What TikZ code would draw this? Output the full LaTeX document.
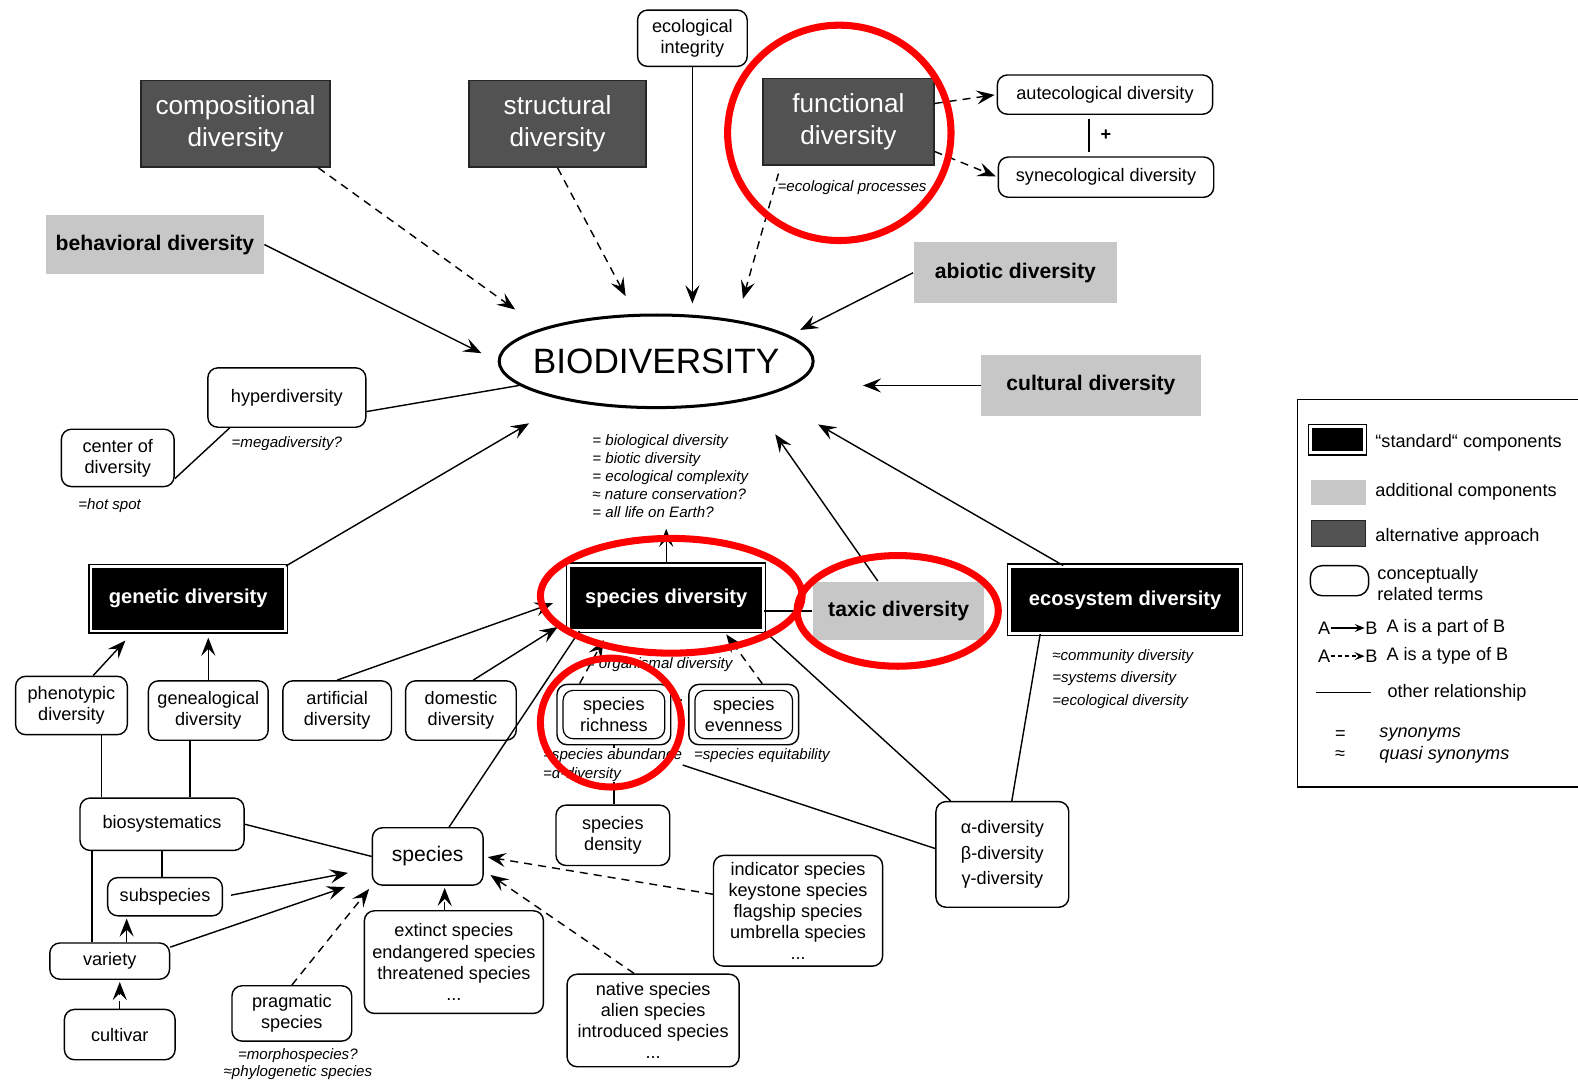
\documentclass[tikz,border=0pt]{standalone}
\usepackage{fontspec}
\setmainfont{Liberation Sans}
\usetikzlibrary{arrows.meta,positioning,shapes.geometric}

\begin{document}
\begin{tikzpicture}[x=0.5pt,y=-0.5pt,>={Stealth[length=9pt,width=7pt,inset=3.5pt]},line width=0.7pt,
    rel node/.style={draw,rounded corners=5pt,fill=white,align=center,inner sep=2pt,font=\fontsize{9}{10.5}\selectfont},
    dbl node/.style={rel node,path picture={\draw[line width=0.6pt] ([shift={(3pt,3pt)}]path picture bounding box.south west) rectangle ([shift={(-3pt,-3pt)}]path picture bounding box.north east);}},
    std node/.style={draw,fill=black,double=white,double distance=1.4pt,line width=0.6pt,text=white,font=\bfseries\fontsize{10}{12}\selectfont},
    add node/.style={fill=black!22,font=\bfseries\fontsize{10.5}{12}\selectfont},
    alt node/.style={draw=black!85,fill=black!68,text=white,align=center,font=\fontsize{13}{15.5}\selectfont},
    syn text/.style={font=\itshape\fontsize{7.5}{9}\selectfont,align=left,inner sep=0pt},
    legend text/.style={anchor=west,inner sep=0pt,align=left,font=\fontsize{9}{10.5}\selectfont},
    box size/.style 2 args={minimum width=#1pt,minimum height=#2pt},
    part of/.style={->},
    type of/.style={->,dash pattern=on 4pt off 3pt},
    mark ring/.style={draw=red,line width=3.5pt}]
\useasboundingbox (0,0) rectangle (1568,1078);

% top row
\node[rel node,box size={54.5}{28}] (ecoint) at (688,38) {ecological\\integrity};
\node[alt node,box size={94}{43}] (comp) at (234,123) {compositional\\diversity};
\node[alt node,box size={88}{43}] (struc) at (554,123) {structural\\diversity};
\node[alt node,box size={85}{43}] (func) at (843,121) {functional\\diversity};
\node[rel node,box size={107}{19.5}] (autec) at (1098,94) {autecological diversity};
\node[rel node,box size={107}{20}] (synec) at (1099,176) {synecological diversity};
\node[syn text,anchor=west] (funcsyn) at (772,186) {=ecological processes};
\node[add node,box size={108}{29.5}] (behav) at (154,243) {behavioral diversity};
\node[add node,box size={101}{30.5}] (abio) at (1009,271) {abiotic diversity};

% centre
\node[ellipse,draw,line width=1.5pt,inner xsep=-8pt,inner ysep=3pt,box size={156}{46},font=\fontsize{17.5}{20}\selectfont] (bio) at (652,359) {BIODIVERSITY};
\node[add node,box size={109}{30}] (cult) at (1084,383) {cultural diversity};
\node[rel node,box size={78.5}{29.5}] (hyper) at (285,395) {hyperdiversity};
\node[syn text,below=4pt of hyper] (hypersyn) {=megadiversity?};
\node[rel node,box size={56}{28.5}] (hotspot) at (117,455) {center of\\diversity};
\node[syn text,below=5pt of hotspot,xshift=-4pt] (hotsyn) {=hot spot};
\node[syn text,anchor=north west] (biosyn) at (588,431) {= biological diversity\\= biotic diversity\\= ecological complexity\\≈ nature conservation?\\= all life on Earth?};

% standard components
\node[std node,box size={96.5}{32}] (genetic) at (187,595) {genetic diversity};
\node[std node,box size={97}{32.5}] (spd) at (662,594) {species diversity};
\node[add node,box size={85}{29}] (taxic) at (893,607) {taxic diversity};
\node[std node,box size={115}{33.5}] (ecosys) at (1118,596) {ecosystem diversity};
\node[syn text,anchor=north west,font=\itshape\fontsize{7.5}{11}\selectfont] (ecosyn) at (1045,645) {≈community diversity\\=systems diversity\\=ecological diversity};
\node[syn text] (orgsyn) at (655,660) {= organismal diversity};

% lower part
\node[rel node,box size={55.5}{29}] (phen) at (71,701) {phenotypic\\diversity};
\node[rel node,box size={59.5}{29.5}] (geneal) at (207,706) {genealogical\\diversity};
\node[rel node,box size={54}{29.5}] (art) at (335,706) {artificial\\diversity};
\node[rel node,box size={55}{29.5}] (dom) at (458,706) {domestic\\diversity};
\node[dbl node,box size={56.5}{30}] (rich) at (610,710) {species\\richness};
\node[font=\bfseries\fontsize{9}{10}\selectfont] (plus) at (673,697) {+};
\node[dbl node,box size={54.5}{30}] (even) at (739,710) {species\\evenness};
\node[syn text,anchor=west] (evensyn) at (689,751) {=species equitability};
\node[rel node,box size={56.5}{30}] (dens) at (609,830) {species\\density};
\node[rel node,box size={66}{52.5},font=\fontsize{9}{12.5}\selectfont] (alpha) at (996,849) {α-diversity\\β-diversity\\γ-diversity};
\node[rel node,box size={81.5}{26}] (biosys) at (161,819) {biosystematics};
\node[rel node,box size={55}{28.5},font=\fontsize{10.5}{12}\selectfont] (species) at (425,851) {species};
\node[rel node,box size={57}{19}] (subsp) at (164,891) {subspecies};
\node[rel node,box size={59.5}{18}] (variety) at (109,955) {variety};
\node[rel node,box size={55}{25}] (cultivar) at (119,1028) {cultivar};
\node[rel node,box size={59.5}{27.5}] (prag) at (290,1007) {pragmatic\\species};
\node[syn text,below=3pt of prag,xshift=3pt,align=center,font=\itshape\fontsize{7.5}{8.5}\selectfont] (pragsyn) {=morphospecies?\\≈phylogenetic species};
\node[rel node,box size={89}{51}] (extinct) at (451,956) {extinct species\\endangered species\\threatened species\\...};
\node[rel node,box size={84}{55}] (indic) at (793,905) {indicator species\\keystone species\\flagship species\\umbrella species\\...};
\node[rel node,box size={85.5}{46}] (native) at (649,1014) {native species\\alien species\\introduced species\\...};

% is a part of
\path[part of]
    (behav.east) edge[shorten >=9pt] (bio.west)
    (ecoint.south) edge[shorten >=5pt] (ecoint.south |- bio.north)
    (abio.west) edge[shorten >=6pt] (bio.11)
    (cult.west) edge[shorten >=24pt] (cult.west -| bio.east)
    (genetic.north east) edge[shorten >=22pt] (bio.204)
    (taxic.125) edge[shorten >=21pt] (bio.-22)
    (ecosys.151) edge[shorten >=29pt] (bio.-17)
    (spd.north) edge[shorten >=5pt] (spd.north |- biosyn.south)
    (art.north) edge[shorten >=8pt] (spd.west)
    (dom.68) edge[shorten >=6pt] (spd.193)
    (phen.54) edge[shorten >=6pt] (genetic.211)
    (geneal.north) edge[shorten >=3pt] (geneal.north |- genetic.south)
    (subsp.east) edge[shorten <=4pt,shorten >=12pt] (species.192)
    (variety.13) edge[shorten >=14pt] (species.201)
    (variety.48) edge[shorten >=1pt] (variety.48 |- subsp.south)
    ;

% is a type of
\path[type of]
    (comp.-28) edge[shorten >=16pt] (bio.164)
    (struc.south) edge[shorten >=10pt] (bio.114)
    (func.213) edge[shorten <=4pt,shorten >=11pt] (bio.27)
    (func.12) edge[shorten >=1pt] (autec.west)
    (func.-19) edge[shorten >=1pt] (synec.west)
    (rich.138) edge[shorten >=5pt] (spd.210)
    (even.59) edge[shorten >=2pt] (spd.-30)
    (cultivar.north) edge[shorten >=1pt] (cultivar.north |- variety.south)
    (prag.north) edge[shorten >=2pt] (species.south west)
    (species.-60 |- extinct.north) edge[shorten >=1pt] (species.-60)
    (indic.169) edge[shorten >=2pt] (species.east)
    (native.112) edge[shorten >=4pt] (species.-14)
    ;

% other relationships
\path
    (hyper.-10) edge (bio.190)
    (hotspot.-20) edge (hyper.208)
    (taxic.west) edge (taxic.west -| spd.east)
    (spd.south east) edge (alpha.134)
    (ecosys.202) edge (alpha.80)
    (species.54) edge (spd.201)
    (biosys.east) edge (species.west)
    (phen.-45) edge (phen.-45 |- biosys.north)
    (geneal.-121) edge (geneal.-121 |- biosys.north)
    (biosys.south) edge (biosys.south |- subsp.north)
    (biosys.201) edge (biosys.201 |- variety.north)
    (rich.south) edge (rich.south |- dens.north)
    (autec.-128) edge[shorten <=2pt,shorten >=2pt] node[right=2pt,font=\bfseries\fontsize{9}{10}\selectfont]{+} (autec.-128 |- synec.north)
    ;
\node[syn text,anchor=north west,fill=white,font=\itshape\fontsize{7.5}{9.5}\selectfont] (richsyn) at (539,743) {=species abundance\\=α-diversity};
\path (richsyn.east) edge (alpha.175);

% legend
\draw (1289,397) rectangle (1600,782);
\node[std node,box size={27}{13}] (lgstd) at (1329,437) {};
\node[legend text] (lgstdtext) at (1366,440) {“standard“ components};
\node[add node,box size={27}{12.5}] (lgadd) at (1330,489) {};
\node[legend text] (lgaddtext) at (1366,489) {additional components};
\node[alt node,box size={27}{13}] (lgalt) at (1330,530) {};
\node[legend text] (lgalttext) at (1366,533) {alternative approach};
\node[rel node,box size={29}{15},rounded corners=6pt] (lgrel) at (1331,577) {};
\node[legend text] (lgreltext) at (1368,580) {conceptually\\related terms};
\node[legend text] (lgA1) at (1309,624) {A};
\node[legend text] (lgB1) at (1356,624) {B};
\node[legend text] (lgpart) at (1377,624) {A is a part of B};
\node[legend text] (lgA2) at (1309,652) {A};
\node[legend text] (lgB2) at (1356,652) {B};
\node[legend text] (lgtype) at (1377,652) {A is a type of B};
\path[>={Stealth[length=5pt,width=4pt,inset=2pt]}]
    (lgA1) edge[part of] (lgB1)
    (lgA2) edge[type of,dash pattern=on 2pt off 1.5pt] (lgB2);
\coordinate (lgl1) at (1308,688);
\coordinate (lgl2) at (1362,688);
\draw[line width=0.5pt] (lgl1) -- (lgl2);
\node[legend text] (lgother) at (1378,688) {other relationship};
\node[legend text] (lgeq) at (1326,730) {=};
\node[legend text,font=\itshape\fontsize{9}{10.5}\selectfont] (lgsyn) at (1370,730) {synonyms};
\node[legend text] (lgapprox) at (1326,750) {≈};
\node[legend text,font=\itshape\fontsize{9}{10.5}\selectfont] (lgquasi) at (1370,750) {quasi synonyms};

% red marks
\draw[mark ring] (834,132) ellipse [x radius=55.5pt,y radius=53.5pt];
\draw[mark ring] (667,592) ellipse [x radius=65pt,y radius=28.5pt];
\draw[mark ring] (892,607) ellipse [x radius=50pt,y radius=27.5pt];
\draw[mark ring] (607,718) ellipse [x radius=35pt,y radius=32pt];
\end{tikzpicture}
\end{document}
